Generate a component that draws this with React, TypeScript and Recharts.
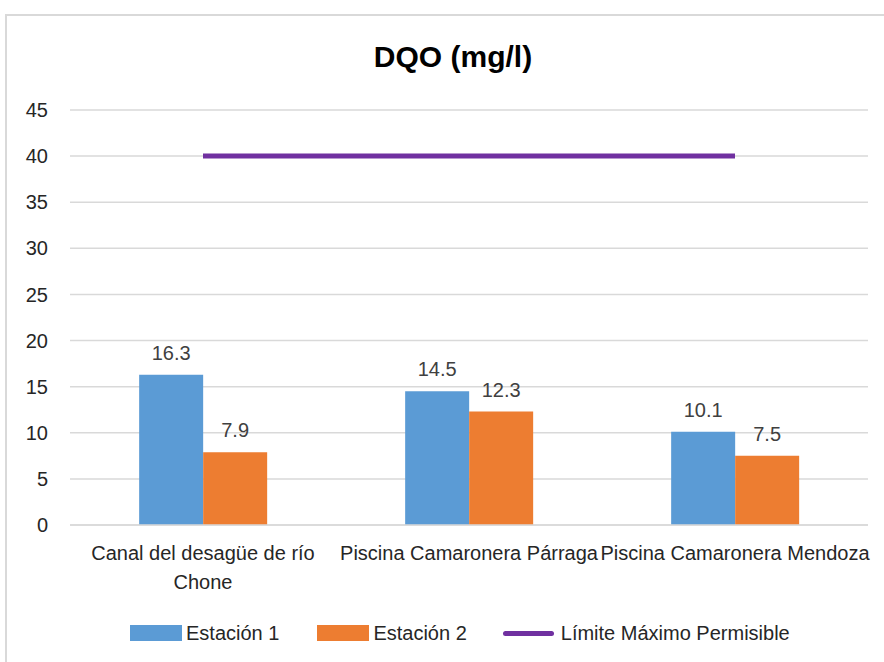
import { Bar, Line, XAxis, YAxis, CartesianGrid, Legend, LabelList, ComposedChart } from 'recharts';

const categories = ['Canal del desagüe de río Chone', 'Piscina Camaronera Párraga', 'Piscina Camaronera Mendoza'];
const estacion1 = [16.3, 14.5, 10.1];
const estacion2 = [7.9, 12.3, 7.5];
const limite = [40, 40, 40];
const yTicks = [0, 5, 10, 15, 20, 25, 30, 35, 40, 45];

// manual wrap for the long category name
const tickLines: Record<string, string[]> = {
    'Canal del desagüe de río Chone': ['Canal del desagüe de río', 'Chone'],
};

const data = categories.map((name, i) => ({
    name,
    e1: estacion1[i],
    e2: estacion2[i],
    lim: limite[i],
}));

const FONT = '"Liberation Sans", Arial, sans-serif';
const BLUE = '#5B9BD5';
const ORANGE = '#ED7D31';
const PURPLE = '#7030A0';
const TEXT = '#262626';

function CategoryTick({ x, y, payload }: any) {
    const lines = tickLines[payload.value] || [payload.value];
    return (
        <g transform={`translate(${x},${y})`}>
            {lines.map((line, i) => (
                <text
                    key={i}
                    x={0}
                    y={27 + i * 29}
                    textAnchor="middle"
                    fill={TEXT}
                    fontSize={20}
                    fontFamily={FONT}
                >
                    {line}
                </text>
            ))}
        </g>
    );
}

function LegendContent() {
    const items = [
        { label: 'Estación 1', kind: 'rect', color: BLUE, gapAfter: 38 },
        { label: 'Estación 2', kind: 'rect', color: ORANGE, gapAfter: 36 },
        { label: 'Límite Máximo Permisible', kind: 'line', color: PURPLE, gapAfter: 0 },
    ];
    return (
        <div style={{ display: 'flex', alignItems: 'center', height: 24, paddingLeft: 130, fontFamily: FONT, fontSize: 20, color: TEXT }}>
            {items.map((it) => (
                <div key={it.label} style={{ display: 'flex', alignItems: 'center', marginRight: it.gapAfter }}>
                    {it.kind === 'rect' ? (
                        <div style={{ width: 52, height: 16, background: it.color, marginRight: 4 }} />
                    ) : (
                        <div style={{ width: 51, height: 5, background: it.color, borderRadius: 3, marginRight: 7 }} />
                    )}
                    <span>{it.label}</span>
                </div>
            ))}
        </div>
    );
}

export default function App() {
    return (
        <div style={{ position: 'absolute', left: 0, top: 0, width: 884, height: 662, overflow: 'hidden', background: '#fff' }}>
            <div
                style={{
                    position: 'absolute',
                    left: 5,
                    top: 14,
                    width: 900,
                    height: 700,
                    border: '2px solid #d9d9d9',
                }}
            />
            <div
                style={{
                    position: 'absolute',
                    top: 40,
                    left: 0,
                    width: 906,
                    textAlign: 'center',
                    fontFamily: FONT,
                    fontWeight: 'bold',
                    fontSize: 30,
                    color: '#000',
                }}
            >
                DQO (mg/l)
            </div>
            <ComposedChart
                width={884}
                height={662}
                data={data}
                margin={{ top: 110, right: 16, bottom: 17, left: 0 }}
                barCategoryGap="26%"
                barGap={0}
                style={{ position: 'absolute', left: 0, top: 0 }}
            >
                <CartesianGrid vertical={false} stroke="#d9d9d9" strokeWidth={1.5} />
                <XAxis
                    dataKey="name"
                    height={96}
                    tickLine={false}
                    axisLine={{ stroke: '#d9d9d9', strokeWidth: 1.5 }}
                    tick={<CategoryTick />}
                    interval={0}
                />
                <YAxis
                    width={70}
                    domain={[0, 45]}
                    ticks={yTicks}
                    tickLine={false}
                    axisLine={false}
                    tickMargin={16}
                    tick={{ fill: TEXT, fontSize: 20, fontFamily: FONT }}
                />
                <Legend verticalAlign="bottom" content={<LegendContent />} />
                <Bar dataKey="e1" name="Estación 1" fill={BLUE} isAnimationActive={false}>
                    <LabelList dataKey="e1" position="top" offset={15} fill="#404040" fontSize={20} fontFamily={FONT} />
                </Bar>
                <Bar dataKey="e2" name="Estación 2" fill={ORANGE} isAnimationActive={false}>
                    <LabelList dataKey="e2" position="top" offset={15} fill="#404040" fontSize={20} fontFamily={FONT} />
                </Bar>
                <Line
                    dataKey="lim"
                    name="Límite Máximo Permisible"
                    stroke={PURPLE}
                    strokeWidth={5}
                    dot={false}
                    activeDot={false}
                    type="linear"
                    isAnimationActive={false}
                />
            </ComposedChart>
        </div>
    );
}
